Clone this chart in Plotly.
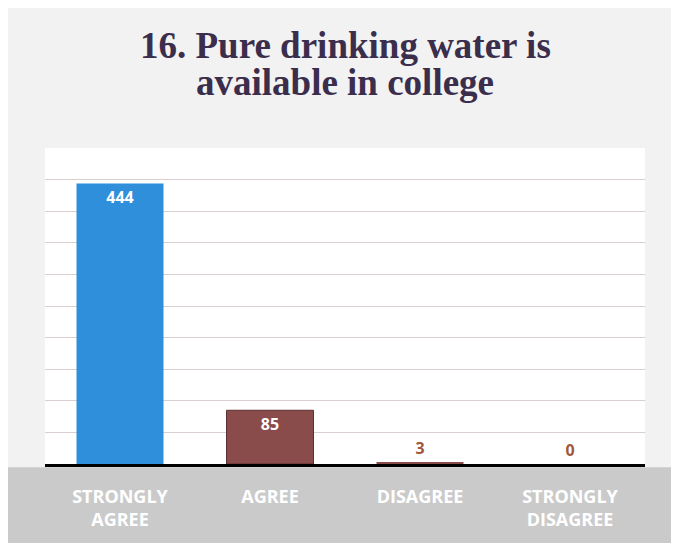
import plotly.graph_objects as go

categories = ["<b>STRONGLY<br>AGREE</b>", "<b>AGREE</b>", "<b>DISAGREE</b>", "<b>STRONGLY<br>DISAGREE</b>"]
responses = [444, 85, 3, 0]
bar_colors = ["#2f8fdb", "#8a4b4b", "#8a4b4b", "#8a4b4b"]
label_pos = ["inside", "inside", "outside", "outside"]
label_colors = ["white", "white", "#a0583a", "#a0583a"]
title_lines = ["16. Pure drinking water is", "available in college"]

bars = go.Bar(
    x=categories,
    y=responses,
    marker=dict(color=bar_colors, line=dict(color="#5a2f2f", width=[0, 1, 0, 0])),
    text=["<b>%d</b>" % v for v in responses],
    textposition=label_pos,
    insidetextanchor="end",
    textfont=dict(color=label_colors, size=16, family="Open Sans"),
    cliponaxis=False,
)

# page body has an 8px margin, so the figure is sized to fit inside it
W, H = 663, 535

layout = go.Layout(
    width=W,
    height=H,
    paper_bgcolor="#f3f2f2",
    plot_bgcolor="white",
    margin=dict(l=37, r=26, t=140, b=77),
    bargap=0.42,
    showlegend=False,
    font=dict(family="Open Sans"),
    xaxis=dict(
        showline=True,
        linecolor="black",
        linewidth=3,
        tickfont=dict(color="white", size=18, family="Open Sans"),
        ticks="",
        ticklabelstandoff=14,
    ),
    yaxis=dict(
        range=[0, 500],
        dtick=50,
        showticklabels=False,
        gridcolor="#d9cfcf",
        gridwidth=1,
        zeroline=False,
    ),
    shapes=[
        dict(type="rect", xref="paper", yref="paper", x0=-0.08, x1=1.06,
             y0=-0.27, y1=-0.01, fillcolor="#cbcaca", line=dict(width=0), layer="below"),
    ],
    annotations=[
        dict(text="<b>%s</b>" % t, xref="paper", yref="paper", x=0.5, xanchor="center",
             y=1 - (yc - 140) / (H - 140 - 77), yanchor="middle", showarrow=False,
             font=dict(family="Liberation Serif", size=37, color="#3a2e4c"))
        for t, yc in zip(title_lines, [37, 74])
    ],
)

fig = go.Figure(data=[bars], layout=layout)
fig.write_html("out.html")
